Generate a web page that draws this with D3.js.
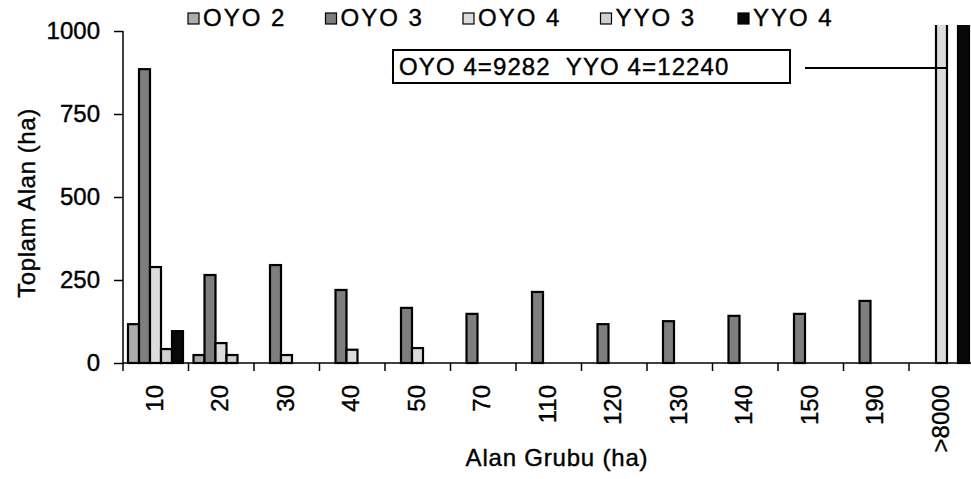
<!DOCTYPE html>
<html lang="tr">
<head>
    <meta charset="UTF-8"/>
    <title>Alan Grubu</title>
    <script src="https://d3js.org/d3.v7.min.js" charset="utf-8"></script>
    <style type="text/css">
        body { margin: 0; background: #fff; }
        text {
            font-family: "Liberation Sans", Arial, sans-serif;
            font-size: 24px;
            fill: #000;
            stroke: #000;
            stroke-width: 0.4px;
        }
        .axis path, .axis line { fill: none; stroke: #000; stroke-width: 1.5px; }
    </style>
</head>
<body>
<div id="diagram"></div>
<script type="text/javascript">

    var categories = ["10", "20", "30", "40", "50", "70", "110", "120", "130", "140", "150", "190", ">8000"];
    var seriesNames = ["OYO 2", "OYO 3", "OYO 4", "YYO 3", "YYO 4"];
    var oyo2 = [117, 24, 0, 0, 0, 0, 0, 0, 0, 0, 0, 0, 0];
    var oyo3 = [885, 265, 295, 220, 166, 148, 214, 117, 126, 142, 148, 187, 0];
    var oyo4 = [289, 60, 24, 40, 45, 0, 0, 0, 0, 0, 0, 0, 9282];
    var yyo3 = [42, 24, 0, 0, 0, 0, 0, 0, 0, 0, 0, 0, 0];
    var yyo4 = [96, 0, 0, 0, 0, 0, 0, 0, 0, 0, 0, 0, 12240];
    var yTicks = [0, 250, 500, 750, 1000];
    var note = "OYO 4=9282  YYO 4=12240";

    var seriesValues = [oyo2, oyo3, oyo4, yyo3, yyo4];
    var colors = ["#acacac", "#7e7e7e", "#dcdcdc", "#d0d0d0", "#080808"];

    var width = 971, height = 479;
    var plotLeft = 123, plotTop = 31, plotBottom = 363;

    var svg = d3.select("#diagram")
        .append("svg")
        .attr("width", width)
        .attr("height", height);

    var x = d3.scaleBand()
        .domain(categories)
        .range([plotLeft, plotLeft + 65.5 * categories.length]);

    var xs = d3.scaleBand()
        .domain(seriesNames)
        .range([5, 60]);

    var y = d3.scaleLinear()
        .domain([0, 1000])
        .range([plotBottom, plotTop]);

    // bars that run off the top (>8000) are cut like in the original
    svg.append("clipPath")
        .attr("id", "plotclip")
        .append("rect")
        .attr("x", plotLeft)
        .attr("y", 25)
        .attr("width", width - plotLeft)
        .attr("height", plotBottom - 25 + 2);

    var data = [];
    categories.forEach(function(c, i) {
        seriesNames.forEach(function(s, j) {
            data.push({cat: c, series: s, value: seriesValues[j][i], color: colors[j]});
        });
    });

    svg.append("g")
        .attr("clip-path", "url(#plotclip)")
        .selectAll("rect")
        .data(data.filter(function(d) { return d.value > 0; }))
        .enter()
        .append("rect")
        .attr("x", function(d) { return x(d.cat) + xs(d.series); })
        .attr("y", function(d) { return Math.max(y(d.value), 10); })
        .attr("width", xs.bandwidth())
        .attr("height", function(d) { return plotBottom - Math.max(y(d.value), 10); })
        .attr("fill", function(d) { return d.color; })
        .attr("stroke", "#000")
        .attr("stroke-width", 2.2);

    // y axis
    svg.append("g")
        .attr("class", "axis")
        .attr("transform", "translate(" + plotLeft + ",0)")
        .call(d3.axisLeft(y).tickValues(yTicks).tickSize(9).tickPadding(14).tickFormat(d3.format("d")))
        .call(function(g) { g.select(".domain").attr("d", "M0," + plotTop + "V" + plotBottom); })
        .selectAll("text")
        .style("font-size", "24px")
        .style("font-family", "'Liberation Sans', Arial, sans-serif");

    // x axis: ticks on category boundaries
    var xAxis = svg.append("g").attr("class", "axis");
    xAxis.append("line")
        .attr("x1", plotLeft).attr("x2", width)
        .attr("y1", plotBottom).attr("y2", plotBottom);
    xAxis.selectAll(".tk")
        .data(categories)
        .enter()
        .append("line")
        .attr("x1", function(d) { return x(d); })
        .attr("x2", function(d) { return x(d); })
        .attr("y1", plotBottom)
        .attr("y2", plotBottom + 8);
    xAxis.selectAll(".lbl")
        .data(categories)
        .enter()
        .append("text")
        .attr("transform", function(d) {
            return "translate(" + (x(d) + x.bandwidth() / 2 + 7) + ",385)rotate(-90)";
        })
        .style("text-anchor", "end")
        .text(function(d) { return d; });

    svg.append("text")
        .attr("x", 557)
        .attr("y", 466)
        .style("text-anchor", "middle")
        .style("letter-spacing", "0.8px")
        .text("Alan Grubu (ha)");

    svg.append("text")
        .attr("transform", "translate(35,203)rotate(-90)")
        .style("text-anchor", "middle")
        .style("letter-spacing", "0.6px")
        .text("Toplam Alan (ha)");

    // legend
    var legend = svg.selectAll(".legend")
        .data(seriesNames)
        .enter()
        .append("g")
        .attr("transform", function(d, i) { return "translate(" + (188 + i * 137.5) + ",0)"; });
    legend.append("rect")
        .attr("x", 0).attr("y", 13)
        .attr("width", 11).attr("height", 11)
        .attr("fill", function(d, i) { return colors[i]; })
        .attr("stroke", "#000")
        .attr("stroke-width", 1.2);
    legend.append("text")
        .attr("x", 15)
        .attr("y", 26)
        .style("letter-spacing", "2px")
        .text(function(d) { return d; });

    // annotation for the off-scale values
    svg.append("rect")
        .attr("x", 393).attr("y", 50)
        .attr("width", 397).attr("height", 33)
        .attr("fill", "#fff")
        .attr("stroke", "#000")
        .attr("stroke-width", 2);
    svg.append("text")
        .attr("x", 399)
        .attr("y", 75)
        .style("letter-spacing", "1.1px")
        .style("white-space", "pre")
        .text(note);
    svg.append("line")
        .attr("x1", 805)
        .attr("x2", x(">8000") + xs("OYO 4") + xs.bandwidth())
        .attr("y1", 68).attr("y2", 68)
        .attr("stroke", "#000")
        .attr("stroke-width", 2);

</script>
</body>
</html>
